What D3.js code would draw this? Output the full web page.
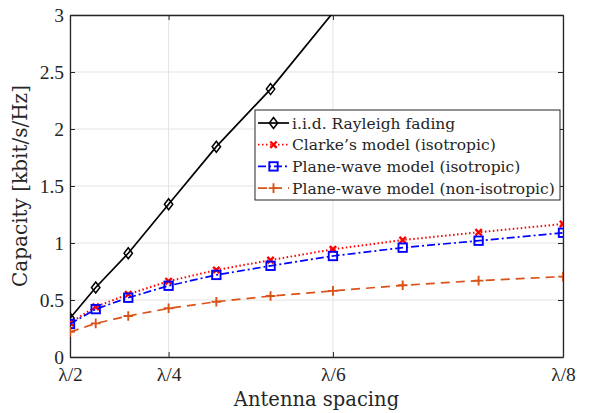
<!DOCTYPE html>
<html>
<head>
<meta charset="utf-8">
<script src="https://cdn.jsdelivr.net/npm/d3@7"></script>
<style>
  body { margin: 0; background: #fff; }
  svg text { font-family: "DejaVu Serif", "Liberation Serif", serif; fill: #262626; }
</style>
</head>
<body>
<svg id="chart" width="590" height="413"></svg>
<script>
// Antenna spacing as lambda / den
const spacingDen = [2, 2.67, 3.33, 4, 4.67, 5.33, 6, 6.67, 7.33, 8];
const tickDen = [2, 4, 6, 8];
const tickLabels = ["λ/2", "λ/4", "λ/6", "λ/8"];
const yTicks = [0, 0.5, 1, 1.5, 2, 2.5, 3];

// Capacity [kbit/s/Hz]
const iidRayleigh = [0.34, 0.61, 0.91, 1.34, 1.845, 2.35, 3.02];
const clarke = [0.30, 0.44, 0.55, 0.665, 0.763, 0.85, 0.945, 1.026, 1.094, 1.167];
const planeIso = [0.29, 0.42, 0.52, 0.625, 0.72, 0.80, 0.886, 0.959, 1.02, 1.09];
const planeNonIso = [0.22, 0.295, 0.36, 0.427, 0.485, 0.535, 0.58, 0.629, 0.67, 0.705];

const series = [
    { name: "i.i.d. Rayleigh fading", values: iidRayleigh, color: "#000000", dash: null, marker: "diamond" },
    { name: "Clarke’s model (isotropic)", values: clarke, color: "#ff0000", dash: "1.5,2.5", marker: "x" },
    { name: "Plane-wave model (isotropic)", values: planeIso, color: "#0000ff", dash: "8,3,2,3", marker: "square" },
    { name: "Plane-wave model (non-isotropic)", values: planeNonIso, color: "#d95319", dash: "9,6", marker: "plus" }
];

const svg = d3.select("#chart");
const margin = {top: 15, right: 27, bottom: 56, left: 70};
const width = +svg.attr("width"), height = +svg.attr("height");
const x0 = margin.left, x1 = width - margin.right;
const y0 = height - margin.bottom, y1 = margin.top;

// antennas per area grows with (1/spacing)^2
const x = d3.scalePow().exponent(2).domain([2, 8]).range([x0, x1]);
const y = d3.scaleLinear().domain([0, 3]).range([y0, y1]);

// grid
svg.append("g").selectAll("line").data(tickDen).join("line")
    .attr("x1", d => x(d)).attr("x2", d => x(d))
    .attr("y1", y0).attr("y2", y1)
    .attr("stroke", "#e3e3e3").attr("stroke-width", 1);
svg.append("g").selectAll("line").data(yTicks).join("line")
    .attr("x1", x0).attr("x2", x1)
    .attr("y1", d => y(d)).attr("y2", d => y(d))
    .attr("stroke", "#e3e3e3").attr("stroke-width", 1);

// style an axis group: dark frame, serif labels
function styleAxis(g) {
    g.attr("font-family", null).attr("font-size", null);
    g.select(".domain").attr("stroke", "#262626").attr("stroke-width", 1.3);
    g.selectAll("line").attr("stroke", "#262626").attr("stroke-width", 1);
    g.selectAll("text")
        .style("font-family", "'Liberation Serif', serif")
        .style("font-size", "19.5px")
        .style("fill", "#262626");
}

// axes with inward ticks
svg.append("g").attr("transform", `translate(0,${y0})`)
    .call(d3.axisBottom(x).tickValues(tickDen).tickSizeInner(-5).tickSizeOuter(0).tickPadding(10)
        .tickFormat((d, i) => tickLabels[i]))
    .call(styleAxis);
svg.append("g").attr("transform", `translate(0,${y1})`)
    .call(d3.axisTop(x).tickValues(tickDen).tickSizeInner(-5).tickSizeOuter(0).tickFormat(""))
    .call(styleAxis);
svg.append("g").attr("transform", `translate(${x0},0)`)
    .call(d3.axisLeft(y).tickValues(yTicks).tickSizeInner(-5).tickSizeOuter(0).tickPadding(6)
        .tickFormat(d => String(d)))
    .call(styleAxis);
svg.append("g").attr("transform", `translate(${x1},0)`)
    .call(d3.axisRight(y).tickValues(yTicks).tickSizeInner(-5).tickSizeOuter(0).tickFormat(""))
    .call(styleAxis);

// clip
svg.append("clipPath").attr("id", "clip").append("rect")
    .attr("x", x0).attr("y", y1).attr("width", x1 - x0).attr("height", y0 - y1);

const line = d3.line().x(d => x(d[0])).y(d => y(d[1]));

function drawMarker(g, type, color) {
    if (type === "diamond") {
        g.append("path").attr("d", "M0,-5.5L4.2,0L0,5.5L-4.2,0Z")
            .attr("fill", "none").attr("stroke", color).attr("stroke-width", 1.5);
    } else if (type === "x") {
        g.append("path").attr("d", "M-3.2,-3.2L3.2,3.2M-3.2,3.2L3.2,-3.2")
            .attr("stroke", color).attr("stroke-width", 2.4);
    } else if (type === "square") {
        g.append("rect").attr("x", -4.2).attr("y", -4.2).attr("width", 8.4).attr("height", 8.4)
            .attr("fill", "none").attr("stroke", color).attr("stroke-width", 1.9);
    } else if (type === "plus") {
        g.append("path").attr("d", "M-4.8,0L4.8,0M0,-4.8L0,4.8")
            .attr("stroke", color).attr("stroke-width", 1.9);
    }
}

const plot = svg.append("g").attr("clip-path", "url(#clip)");
series.forEach(s => {
    const pts = s.values.map((v, i) => [spacingDen[i], v]);
    plot.append("path").datum(pts)
        .attr("fill", "none")
        .attr("stroke", s.color)
        .attr("stroke-width", s.marker === "x" ? 2 : 1.7)
        .attr("stroke-dasharray", s.dash)
        .attr("d", line);
    pts.filter(p => p[1] <= 3).forEach(p => {
        const g = plot.append("g").attr("transform", `translate(${x(p[0])},${y(p[1])})`);
        drawMarker(g, s.marker, s.color);
    });
});

// legend
const lg = svg.append("g").attr("transform", "translate(255,110)");
lg.append("rect").attr("width", 305).attr("height", 90)
    .attr("fill", "#fff").attr("stroke", "#262626").attr("stroke-width", 1);
series.forEach((s, i) => {
    const yy = 13 + i * 21.7;
    lg.append("line").attr("x1", 3).attr("x2", 34).attr("y1", yy).attr("y2", yy)
        .attr("stroke", s.color).attr("stroke-width", 1.7).attr("stroke-dasharray", s.dash);
    drawMarker(lg.append("g").attr("transform", `translate(18.5,${yy})`), s.marker, s.color);
    lg.append("text").attr("x", 37).attr("y", yy + 5.5)
        .attr("font-size", 15.5).text(s.name);
});

// axis titles
svg.append("text").attr("x", (x0 + x1) / 2).attr("y", 406)
    .attr("text-anchor", "middle").attr("font-size", 19.5).text("Antenna spacing");
svg.append("text").attr("transform", `translate(27,${(y0 + y1) / 2}) rotate(-90)`)
    .attr("text-anchor", "middle").attr("font-size", 20).text("Capacity [kbit/s/Hz]");
</script>
</body>
</html>
